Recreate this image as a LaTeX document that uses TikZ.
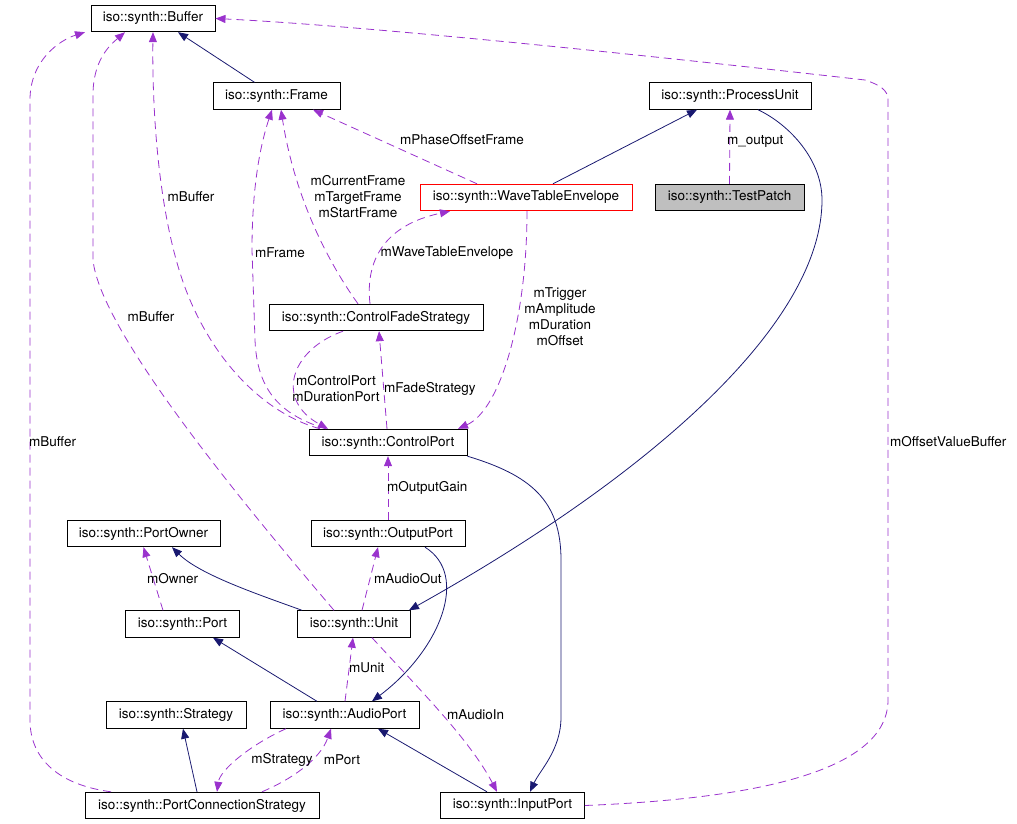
\documentclass[tikz,border=0pt]{standalone}
\usepackage{fontspec}
\setmainfont{TeX Gyre Heros}
\definecolor{edgeNavy}{RGB}{25, 25, 112}
\definecolor{edgeOrchid}{RGB}{154, 50, 205}
\definecolor{patchGray}{RGB}{191, 191, 191}
\usetikzlibrary{arrows.meta}

\begin{document}
\begin{tikzpicture}[
    x=1pt, y=-1pt,
    cls/.style={rectangle, draw, line width=0.9pt, minimum height=26.5pt,
                inner sep=0pt, font=\fontsize{13.5}{16}\selectfont},
    inherit/.style={-{Triangle[length=10pt, width=8pt]}, line width=0.8pt, edgeNavy},
    member/.style={-{Triangle[length=10pt, width=8pt]}, line width=0.8pt, edgeOrchid,
                   dash pattern=on 8pt off 5pt},
    lbl/.style={inner sep=0pt, align=center, font=\fontsize{13.5}{16}\selectfont}
  ]
    \useasboundingbox (0,0) rectangle (1017,824);

    % Classes
    \node[cls, minimum width=124pt] (buf) at (153,18.5) {iso::synth::Buffer};
    \node[cls, minimum width=127pt] (frame) at (276.5,96) {iso::synth::Frame};
    \node[cls, minimum width=162pt] (pu) at (730,96) {iso::synth::ProcessUnit};
    \node[cls, minimum width=212pt, draw=red] (wte) at (526,197.5) {iso::synth::WaveTableEnvelope};
    \node[cls, minimum width=149pt, fill=patchGray] (tp) at (729.5,197.5) {iso::synth::TestPatch};
    \node[cls, minimum width=214pt] (cfs) at (376,317.5) {iso::synth::ControlFadeStrategy};
    \node[cls, minimum width=158pt] (cp) at (388,442.5) {iso::synth::ControlPort};
    \node[cls, minimum width=153pt] (po) at (143.5,533.5) {iso::synth::PortOwner};
    \node[cls, minimum width=154pt] (op) at (388,533.5) {iso::synth::OutputPort};
    \node[cls, minimum width=114pt] (port) at (182.5,624) {iso::synth::Port};
    \node[cls, minimum width=113pt] (unit) at (354,624) {iso::synth::Unit};
    \node[cls, minimum width=140pt] (strat) at (176,715) {iso::synth::Strategy};
    \node[cls, minimum width=149pt] (ap) at (344.5,715) {iso::synth::AudioPort};
    \node[cls, minimum width=234pt] (pcs) at (202,805.5) {iso::synth::PortConnectionStrategy};
    \node[cls, minimum width=144pt] (ip) at (512.5,805.5) {iso::synth::InputPort};

    % Inheritance
    \draw[inherit] ([xshift=-22pt]frame.north) -- ([xshift=25pt]buf.south);
    \draw[inherit] ([xshift=27pt]wte.north) -- ([xshift=-33pt]pu.south);
    \draw[inherit] ([xshift=28pt]pu.south) .. controls (790,125) and (822,160) .. (822,200)
      .. controls (822,320) and (660,470) .. ([xshift=-2pt]unit.north east);
    \draw[inherit] ([xshift=-52pt]unit.north) .. controls (260,595) and (200,575) .. ([xshift=28.5pt]po.south);
    \draw[inherit] ([xshift=37pt]op.south) .. controls (470,575) and (440,650) .. ([xshift=27.5pt]ap.north);
    \draw[inherit] ([xshift=-27.5pt]ap.north) -- ([xshift=30.5pt]port.south);
    \draw[inherit] ([xshift=-5pt]pcs.north) -- ([xshift=7pt]strat.south);
    \draw[inherit] ([xshift=-25.5pt]ip.north) -- ([xshift=33.5pt]ap.south);
    \draw[inherit] (cp.south east) .. controls (530,475) and (561,500) .. (561,560) -- (561,717)
      .. controls (561,750) and (540,770) .. ([xshift=17.5pt]ip.north);

    % Members
    \draw[member] (ip.east) .. controls (720,800) and (888,780) .. (888,700) -- (888,100)
      .. controls (888,90) and (880,85) .. (865,80) .. controls (600,50) and (350,25) .. (buf.east);
    \draw[member] ([xshift=-91pt]pcs.north) .. controls (60,785) and (30,760) .. (30,720) -- (30,100)
      .. controls (30,60) and (60,40) .. ([xshift=-68pt]buf.south);
    \draw[member] ([xshift=-20pt]unit.north) .. controls (240,500) and (100,330) .. (93,260) -- (93,95)
      .. controls (93,60) and (110,45) .. ([xshift=-28pt]buf.south);
    \draw[member] ([xshift=-68pt]cp.north) .. controls (270,415) and (220,370) .. (190,300)
      .. controls (160,230) and (152,120) .. (buf.south);
    \draw[member] ([xshift=-62pt]cp.north) .. controls (280,415) and (257,390) .. (255,340) -- (252,250)
      .. controls (252,180) and (262,140) .. ([xshift=-4.5pt]frame.south);
    \draw[member] ([xshift=-18pt]cfs.north) .. controls (330,265) and (295,200) .. ([xshift=4.5pt]frame.south);
    \draw[member] ([xshift=-49pt]wte.north) -- ([xshift=36.5pt]frame.south);
    \draw[member] ([xshift=-6pt]cfs.north) .. controls (365,260) and (385,225) .. ([xshift=-76pt]wte.south);
    \draw[member] ([xshift=1pt]wte.south) .. controls (527,320) and (500,410) .. ([xshift=70pt]cp.north);
    \draw[member] ([xshift=-33pt]cfs.south) .. controls (290,350) and (275,400) .. ([xshift=-60pt]cp.north);
    \draw[member] ([xshift=-1pt]cp.north) -- ([xshift=3pt]cfs.south);
    \draw[member] (op.north) -- (cp.south);
    \draw[member] ([xshift=8pt]unit.north) -- ([xshift=-10pt]op.south);
    \draw[member] ([xshift=-19.5pt]port.north) -- (po.south);
    \draw[member] ([xshift=0.5pt]ap.north) -- ([xshift=-1pt]unit.south);
    \draw[member] ([xshift=18pt]unit.south) .. controls (420,690) and (470,740) .. ([xshift=-15.5pt]ip.north);
    \draw[member] ([xshift=-58.5pt]ap.south) .. controls (250,745) and (220,770) .. ([xshift=15pt]pcs.north);
    \draw[member] ([xshift=60pt]pcs.north) .. controls (290,780) and (320,760) .. ([xshift=-13.5pt]ap.south);
    \draw[member] (tp.north) -- (pu.south);

    % Labels
    \node[lbl, anchor=west] (lOffset) at (890,442) {mOffsetValueBuffer};
    \node[lbl, anchor=west] (lBufA) at (29,442) {mBuffer};
    \node[lbl] (lBufB) at (151,317) {mBuffer};
    \node[lbl] (lBufC) at (191,197) {mBuffer};
    \node[lbl] (lFrame) at (280,253) {mFrame};
    \node[lbl] (lFrames) at (358,197) {mCurrentFrame\\mTargetFrame\\mStartFrame};
    \node[lbl] (lPhase) at (462,140) {mPhaseOffsetFrame};
    \node[lbl] (lWave) at (447,253) {mWaveTableEnvelope};
    \node[lbl, anchor=west] (lOut) at (727,141) {m\_output};
    \node[lbl] (lTrig) at (560,317) {mTrigger\\mAmplitude\\mDuration\\mOffset};
    \node[lbl] (lCtrl) at (336,389) {mControlPort\\mDurationPort};
    \node[lbl, anchor=west] (lFade) at (384,389) {mFadeStrategy};
    \node[lbl, anchor=west] (lGain) at (387,488) {mOutputGain};
    \node[lbl, anchor=west] (lAOut) at (374,579) {mAudioOut};
    \node[lbl, anchor=west] (lOwner) at (147,579) {mOwner};
    \node[lbl, anchor=west] (lUnit) at (349,668) {mUnit};
    \node[lbl, anchor=west] (lAIn) at (447,715) {mAudioIn};
    \node[lbl] (lStrat) at (282,760) {mStrategy};
    \node[lbl] (lPort) at (342,760) {mPort};
  \end{tikzpicture}
\end{document}
